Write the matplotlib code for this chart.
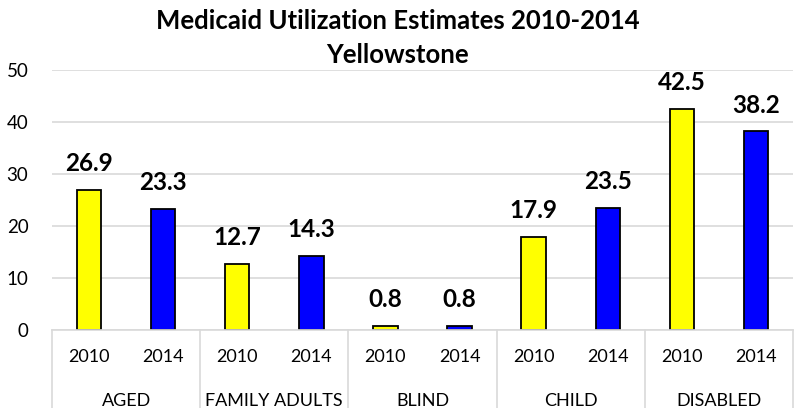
import numpy as np
import matplotlib
matplotlib.use('Agg')
import matplotlib.pyplot as plt
from matplotlib.transforms import blended_transform_factory

plt.rcParams['font.family'] = ['Lato', 'DejaVu Sans']

groups = ['AGED', 'FAMILY ADULTS', 'BLIND', 'CHILD', 'DISABLED']
years = ['2010', '2014']
values_2010 = [26.9, 12.7, 0.8, 17.9, 42.5]
values_2014 = [23.3, 14.3, 0.8, 23.5, 38.2]

fig = plt.figure(figsize=(7.95, 4.08), dpi=100)
ax = fig.add_axes([52 / 795, 78 / 408, 741 / 795, 260 / 408])

n = len(groups)
x2010 = np.arange(n) * 2
x2014 = x2010 + 1
width = 0.33

bars1 = ax.bar(x2010, values_2010, width, color='#ffff00', edgecolor='black', linewidth=1.3, zorder=3)
bars2 = ax.bar(x2014, values_2014, width, color='#0000ff', edgecolor='black', linewidth=1.3, zorder=3)

# value labels above bars
for bars, vals in ((bars1, values_2010), (bars2, values_2014)):
    for b, v in zip(bars, vals):
        ax.annotate('%.1f' % v, (b.get_x() + b.get_width() / 2, v),
                    xytext=(0, 13.5), textcoords='offset points',
                    ha='center', va='baseline', fontsize=17.5, fontweight='bold')

ax.set_xlim(-0.5, 2 * n - 0.5)
ax.set_ylim(0, 50)
ax.set_yticks(range(0, 51, 10))
ax.tick_params(axis='y', length=0, labelsize=13.5, pad=17)
ax.set_xticks([])
ax.grid(axis='y', color='#d9d9d9', linewidth=1.2, zorder=0)
for s in ['top', 'right', 'left', 'bottom']:
    ax.spines[s].set_visible(False)

# two-level category axis
trans = blended_transform_factory(ax.transData, ax.transAxes)
ax.plot([-0.5, 2 * n - 0.5], [0, 0], transform=trans, color='#d9d9d9', lw=1.2, clip_on=False, zorder=4)
for i in range(n + 1):
    xs = 2 * i - 0.5
    ax.plot([xs, xs], [0, -0.32], transform=trans, color='#d9d9d9', lw=1.2, clip_on=False)
for i, g in enumerate(groups):
    for j, y in enumerate(years):
        ax.text(2 * i + j, -0.105, y, transform=trans, ha='center', va='center', fontsize=13)
    ax.text(2 * i + 0.5, -0.272, g, transform=trans, ha='center', va='center', fontsize=13)

fig.text(0.5, 1 - 21 / 408, 'Medicaid Utilization Estimates 2010-2014', ha='center', va='center',
         fontsize=18.5, fontweight='bold')
fig.text(0.5, 1 - 55 / 408, 'Yellowstone', ha='center', va='center', fontsize=18.5, fontweight='bold')

fig.savefig('out.png', dpi=100)
